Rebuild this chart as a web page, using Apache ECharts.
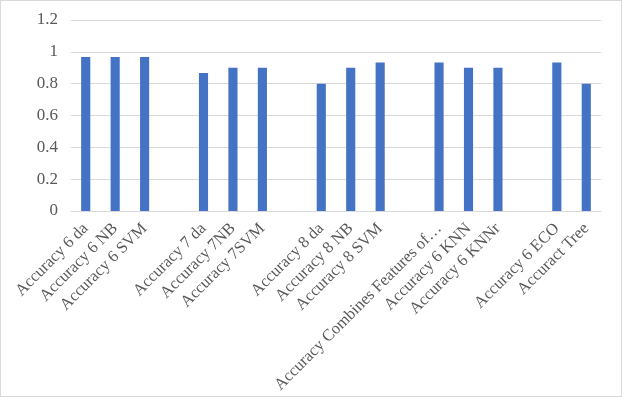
<!DOCTYPE html>
<html>
<head>
<meta charset="utf-8">
<script src="https://cdn.jsdelivr.net/npm/echarts@6/dist/echarts.min.js"></script>
<style>
  html, body { margin: 0; padding: 0; background: #fff; }
  #accChart { width: 620px; height: 395px; border: 1px solid #d9d9d9; }
</style>
</head>
<body>
<div id="accChart"></div>
<script>
// categories (empty strings are the gaps between groups)
const categories = [
  'Accuracy 6 da', 'Accuracy 6 NB', 'Accuracy 6 SVM', '',
  'Accuracy 7 da', 'Accuracy 7NB', 'Accuracy 7SVM', '',
  'Accuracy 8 da', 'Accuracy 8 NB', 'Accuracy 8 SVM', '',
  'Accuracy Combines Features of…', 'Accuracy 6 KNN', 'Accuracy 6 KNNr', '',
  'Accuracy 6 ECO', 'Accuract Tree'
];
const accuracy = [
  0.967, 0.967, 0.967, null,
  0.867, 0.9, 0.9, null,
  0.8, 0.9, 0.933, null,
  0.933, 0.9, 0.9, null,
  0.933, 0.8
];
const yTicks = [0, 0.2, 0.4, 0.6, 0.8, 1, 1.2];

const myChart = echarts.init(document.getElementById('accChart'));
const option = {
  animation: false,
  textStyle: { fontFamily: 'Liberation Serif' },
  grid: { left: 70, right: 20, top: 19, bottom: 185, containLabel: false },
  xAxis: {
    type: 'category',
    data: categories,
    axisLine: { lineStyle: { color: '#d9d9d9' } },
    axisTick: { show: false },
    axisLabel: {
      interval: 0,
      rotate: 45,
      color: '#595959',
      fontSize: 16.5,
      margin: 15
    }
  },
  yAxis: {
    type: 'value',
    min: yTicks[0],
    max: yTicks[yTicks.length - 1],
    interval: 0.2,
    axisLine: { show: false },
    axisTick: { show: false },
    axisLabel: {
      color: '#595959',
      fontSize: 17,
      margin: 13,
      formatter: v => String(Math.round(v * 10) / 10)
    },
    splitLine: { lineStyle: { color: '#d9d9d9' } }
  },
  series: [{
    type: 'bar',
    data: accuracy,
    barWidth: '31%',
    itemStyle: { color: '#4472c4' }
  }]
};
myChart.setOption(option);
</script>
</body>
</html>
